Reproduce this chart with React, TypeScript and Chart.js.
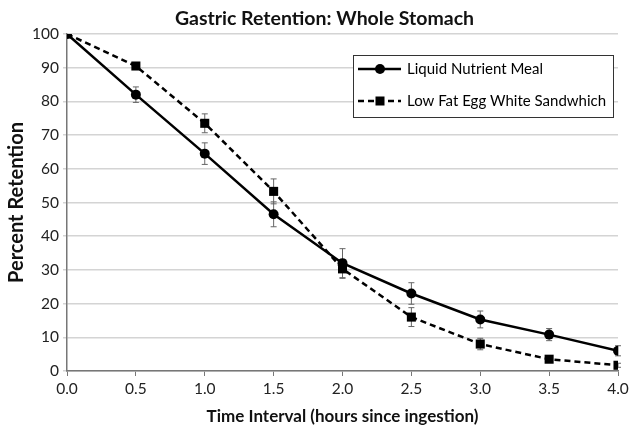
import React, { useEffect, useRef } from "react";
import { Chart, registerables } from "chart.js";

Chart.register(...registerables);

const times = [0, 0.5, 1.0, 1.5, 2.0, 2.5, 3.0, 3.5, 4.0];
const liquidMeal = [100, 82, 64.5, 46.5, 32, 23, 15.3, 10.8, 6];
const liquidMealErr = [0, 2.3, 3.2, 3.7, 4.3, 3.2, 2.5, 1.8, 1.5];
const eggSandwich = [100, 90.5, 73.5, 53.3, 30.3, 16, 8, 3.5, 1.7];
const eggSandwichErr = [0, 0.5, 2.8, 3.7, 2.8, 2.8, 1.7, 0.6, 0.6];
const seriesNames = ["Liquid Nutrient Meal", "Low Fat Egg White Sandwhich"];
const chartTitle = "Gastric Retention: Whole Stomach";
const xTitle = "Time Interval (hours since ingestion)";
const yTitle = "Percent Retention";

const FONT = "Lato, 'Open Sans', sans-serif";

const errorBarPlugin = {
  id: "errorBars",
  beforeDatasetsDraw(chart: any) {
    const { ctx } = chart;
    const xs = chart.scales.x;
    const ys = chart.scales.y;
    const errs = [liquidMealErr, eggSandwichErr];
    ctx.save();
    ctx.strokeStyle = "#666";
    ctx.lineWidth = 1;
    chart.data.datasets.forEach((ds: any, di: number) => {
      ds.data.forEach((p: any, i: number) => {
        const e = errs[di][i];
        if (!e) return;
        const x = xs.getPixelForValue(p.x);
        const y1 = ys.getPixelForValue(p.y + e);
        const y2 = ys.getPixelForValue(p.y - e);
        ctx.beginPath();
        ctx.moveTo(x, y1);
        ctx.lineTo(x, y2);
        ctx.moveTo(x - 3, y1);
        ctx.lineTo(x + 3, y1);
        ctx.moveTo(x - 3, y2);
        ctx.lineTo(x + 3, y2);
        ctx.stroke();
      });
    });
    ctx.restore();
  },
};

const titlePlugin = {
  id: "customTitle",
  afterDraw(chart: any) {
    const { ctx } = chart;
    ctx.save();
    ctx.fillStyle = "#111";
    ctx.font = `bold 19.5px ${FONT}`;
    ctx.textAlign = "center";
    ctx.textBaseline = "middle";
    ctx.fillText(chartTitle, chart.width / 2 + 8, 19);
    ctx.restore();
  },
};

const legendBoxPlugin = {
  id: "legendBox",
  afterDraw(chart: any) {
    const { ctx, chartArea } = chart;
    const left = chartArea.right - 265;
    const top = chartArea.top + 21;
    const w = 260;
    const h = 62;
    ctx.save();
    ctx.fillStyle = "#fff";
    ctx.fillRect(left, top, w, h);
    ctx.strokeStyle = "#333";
    ctx.lineWidth = 1;
    ctx.strokeRect(left + 0.5, top + 0.5, w, h);
    const rows = [top + 14, top + 46];
    chart.data.datasets.forEach((ds: any, i: number) => {
      const y = rows[i];
      ctx.strokeStyle = "#000";
      ctx.lineWidth = 2.5;
      ctx.setLineDash(ds.borderDash || []);
      ctx.beginPath();
      ctx.moveTo(left + 5, y);
      ctx.lineTo(left + 48, y);
      ctx.stroke();
      ctx.setLineDash([]);
      ctx.fillStyle = "#000";
      const cx = left + 27;
      if (ds.pointStyle === "rect") {
        ctx.fillRect(cx - 4.5, y - 4.5, 9, 9);
      } else {
        ctx.beginPath();
        ctx.arc(cx, y, 5, 0, Math.PI * 2);
        ctx.fill();
      }
      ctx.font = `15px ${FONT}`;
      ctx.textBaseline = "middle";
      ctx.textAlign = "left";
      ctx.fillText(ds.label, left + 54, y);
    });
    ctx.restore();
  },
};

export default function App() {
  const ref = useRef<HTMLCanvasElement>(null);
  useEffect(() => {
    document.body.style.margin = "0";
    const chart = new Chart(ref.current!, {
      type: "line",
      data: {
        datasets: [
          {
            label: seriesNames[0],
            data: times.map((t, i) => ({ x: t, y: liquidMeal[i] })),
            borderColor: "#000",
            backgroundColor: "#000",
            borderWidth: 2.5,
            pointStyle: "circle",
            pointRadius: 5,
            pointBackgroundColor: "#000",
            pointBorderWidth: 0,
          },
          {
            label: seriesNames[1],
            data: times.map((t, i) => ({ x: t, y: eggSandwich[i] })),
            borderColor: "#000",
            backgroundColor: "#000",
            borderWidth: 2.5,
            borderDash: [6, 4],
            pointStyle: "rect",
            pointRadius: 6.4,
            pointBackgroundColor: "#000",
            pointBorderWidth: 0,
          },
        ],
      },
      options: {
        animation: false,
        responsive: false,
        maintainAspectRatio: false,
        layout: { padding: { left: 0, right: 15, top: 34, bottom: 0 } },
        plugins: {
          legend: { display: false },
          tooltip: { enabled: false },
          title: { display: false },
        },
        scales: {
          x: {
            type: "linear",
            min: 0,
            max: 4,
            ticks: {
              stepSize: 0.5,
              color: "#222",
              font: { family: FONT, size: 15.5 },
              padding: 4,
              maxRotation: 0,
              callback: (v: any) => Number(v).toFixed(1),
            },
            grid: {
              display: true,
              drawOnChartArea: false,
              drawTicks: true,
              tickLength: 5,
              color: "#777",
            },
            border: { color: "#777", width: 1.5 },
            title: {
              display: true,
              text: xTitle,
              color: "#111",
              font: { family: FONT, size: 17, weight: "bold" },
              padding: { top: 2, bottom: 0 },
            },
            afterFit: (s: any) => {
              s.height = 56;
            },
          },
          y: {
            min: 0,
            max: 100,
            ticks: {
              stepSize: 10,
              color: "#222",
              font: { family: FONT, size: 15.5 },
              padding: 4,
            },
            grid: {
              color: "#d4d4d4",
              lineWidth: 1.5,
              tickLength: 4,
            },
            border: { color: "#777", width: 1.5 },
            title: {
              display: true,
              text: yTitle,
              color: "#111",
              font: { family: FONT, size: 20, weight: "bold" },
              padding: { top: 5, bottom: 0 },
            },
            afterFit: (s: any) => {
              s.width = 67;
            },
          },
        },
      },
      plugins: [errorBarPlugin, legendBoxPlugin, titlePlugin],
    } as any);
    return () => chart.destroy();
  }, []);
  return (
    <div style={{ width: 633, height: 427, background: "#fff" }}>
      <canvas ref={ref} width={633} height={427} />
    </div>
  );
}
